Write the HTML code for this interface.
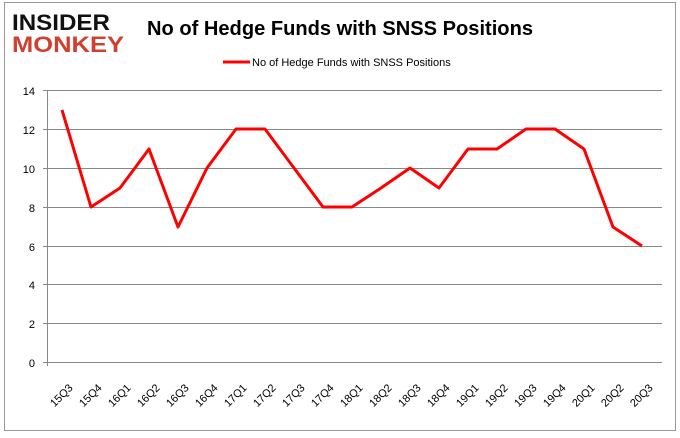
<!DOCTYPE html>
<html><head><style>body{margin:0;background:#fff}</style></head><body>
<svg width="680" height="433" xmlns="http://www.w3.org/2000/svg" font-family="Liberation Sans, sans-serif">
<rect x="4.5" y="2.5" width="671" height="428" fill="#fff" stroke="#999" stroke-width="1"/>
<text x="12" y="30" font-size="22" font-weight="bold" fill="#111" textLength="98" lengthAdjust="spacingAndGlyphs">INSIDER</text>
<text x="12" y="52" font-size="22" font-weight="bold" fill="#d04030" textLength="112" lengthAdjust="spacingAndGlyphs">MONKEY</text>
<text x="340" y="35" font-size="20" font-weight="bold" text-anchor="middle" fill="#000" textLength="386" lengthAdjust="spacingAndGlyphs">No of Hedge Funds with SNSS Positions</text>
<line x1="223" y1="62" x2="250" y2="62" stroke="#f00" stroke-width="3"/>
<text x="252" y="66" font-size="11" fill="#000">No of Hedge Funds with SNSS Positions</text>
<g stroke="#888" stroke-width="1">
<line x1="43" y1="90.5" x2="662" y2="90.5"/><line x1="43" y1="129.5" x2="662" y2="129.5"/>
<line x1="43" y1="168.5" x2="662" y2="168.5"/><line x1="43" y1="207.5" x2="662" y2="207.5"/>
<line x1="43" y1="246.5" x2="662" y2="246.5"/><line x1="43" y1="284.5" x2="662" y2="284.5"/>
<line x1="43" y1="323.5" x2="662" y2="323.5"/><line x1="43" y1="362.5" x2="662" y2="362.5"/>
<line x1="47.5" y1="90" x2="47.5" y2="366"/>
</g>
<g font-size="11" text-anchor="end" fill="#000">
<text x="35" y="95">14</text><text x="35" y="134">12</text><text x="35" y="173">10</text>
<text x="35" y="212">8</text><text x="35" y="251">6</text><text x="35" y="289">4</text>
<text x="35" y="328">2</text><text x="35" y="367">0</text>
</g>
<polyline fill="none" stroke="#f00" stroke-width="3" stroke-linejoin="round" points="62,110 91,207 120,188 149,149 178,227 207,168 236,129 265,129 294,168 323,207 352,207 381,188 410,168 439,188 468,149 497,149 526,129 555,129 584,149 613,227 642,246"/>
<g font-size="11" fill="#000">
<text transform="translate(70,392) rotate(-45)" x="-22">15Q3</text>
<text transform="translate(99,392) rotate(-45)" x="-22">15Q4</text>
<text transform="translate(128,392) rotate(-45)" x="-22">16Q1</text>
<text transform="translate(157,392) rotate(-45)" x="-22">16Q2</text>
<text transform="translate(186,392) rotate(-45)" x="-22">16Q3</text>
<text transform="translate(215,392) rotate(-45)" x="-22">16Q4</text>
<text transform="translate(244,392) rotate(-45)" x="-22">17Q1</text>
<text transform="translate(273,392) rotate(-45)" x="-22">17Q2</text>
<text transform="translate(302,392) rotate(-45)" x="-22">17Q3</text>
<text transform="translate(331,392) rotate(-45)" x="-22">17Q4</text>
<text transform="translate(360,392) rotate(-45)" x="-22">18Q1</text>
<text transform="translate(389,392) rotate(-45)" x="-22">18Q2</text>
<text transform="translate(418,392) rotate(-45)" x="-22">18Q3</text>
<text transform="translate(447,392) rotate(-45)" x="-22">18Q4</text>
<text transform="translate(476,392) rotate(-45)" x="-22">19Q1</text>
<text transform="translate(505,392) rotate(-45)" x="-22">19Q2</text>
<text transform="translate(534,392) rotate(-45)" x="-22">19Q3</text>
<text transform="translate(563,392) rotate(-45)" x="-22">19Q4</text>
<text transform="translate(592,392) rotate(-45)" x="-22">20Q1</text>
<text transform="translate(621,392) rotate(-45)" x="-22">20Q2</text>
<text transform="translate(650,392) rotate(-45)" x="-22">20Q3</text>
</g>
</svg>
</body></html>
